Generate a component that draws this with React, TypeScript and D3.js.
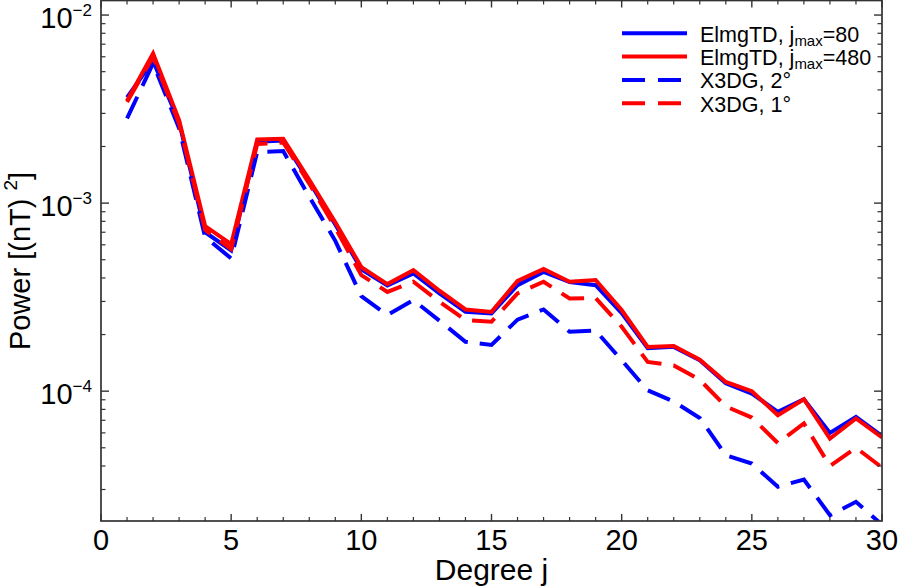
import React from "react";
import * as d3 from "d3";

const degrees = [1, 2, 3, 4, 5, 6, 7, 8, 9, 10, 11, 12, 13, 14, 15, 16, 17, 18, 19, 20, 21, 22, 23, 24, 25, 26, 27, 28, 29, 30];

const elmgTD80 = [3.65e-3, 5.7e-3, 2.7e-3, 7.0e-4, 5.6e-4, 2.12e-3, 2.15e-3, 1.3e-3, 7.7e-4, 4.45e-4,
  3.65e-4, 4.23e-4, 3.31e-4, 2.64e-4, 2.59e-4, 3.66e-4, 4.31e-4, 3.8e-4, 3.66e-4, 2.6e-4,
  1.69e-4, 1.72e-4, 1.46e-4, 1.1e-4, 9.7e-5, 7.76e-5, 9.06e-5, 6.0e-5, 7.3e-5, 5.77e-5];

const elmgTD480 = [3.5e-3, 6.25e-3, 2.76e-3, 7.55e-4, 6.05e-4, 2.18e-3, 2.2e-3, 1.33e-3, 7.9e-4, 4.57e-4,
  3.71e-4, 4.4e-4, 3.42e-4, 2.72e-4, 2.64e-4, 3.86e-4, 4.46e-4, 3.82e-4, 3.9e-4, 2.7e-4,
  1.72e-4, 1.74e-4, 1.47e-4, 1.12e-4, 1.0e-4, 7.45e-5, 9.06e-5, 5.6e-5, 7.16e-5, 5.67e-5];

const x3dg2 = [2.82e-3, 5.53e-3, 2.5e-3, 6.6e-4, 5.08e-4, 1.87e-3, 1.89e-3, 1.08e-3, 6.3e-4, 3.2e-4,
  2.54e-4, 3.05e-4, 2.37e-4, 1.83e-4, 1.76e-4, 2.4e-4, 2.72e-4, 2.07e-4, 2.1e-4, 1.46e-4,
  1.01e-4, 8.8e-5, 7.2e-5, 4.57e-5, 4.12e-5, 3.1e-5, 3.39e-5, 2.19e-5, 2.58e-5, 1.95e-5];

const x3dg1 = [3.45e-3, 6.0e-3, 2.65e-3, 7.2e-4, 5.7e-4, 2.06e-3, 2.1e-3, 1.27e-3, 7.4e-4, 4.14e-4,
  3.37e-4, 3.82e-4, 2.99e-4, 2.39e-4, 2.34e-4, 3.31e-4, 3.82e-4, 3.11e-4, 3.13e-4, 2.2e-4,
  1.43e-4, 1.37e-4, 1.15e-4, 8.3e-5, 7.24e-5, 5.3e-5, 6.73e-5, 4.0e-5, 5.0e-5, 3.93e-5];

const xMajorTicks = [0, 5, 10, 15, 20, 25, 30];
const yMajorTicks = [1e-2, 1e-3, 1e-4];
const yTickExponents = ["\u22122", "\u22123", "\u22124"];

const legendNames = ["ElmgTD, j", "ElmgTD, j", "X3DG, 2\u00b0", "X3DG, 1\u00b0"];
const legendSubs = ["max", "max", "", ""];
const legendTails = ["=80", "=480", "", ""];

export default function App() {
  const W = 898, H = 586;
  const left = 101, right = 882, top = 0.5, bottom = 521;
  const x = d3.scaleLinear().domain([0, 30]).range([left, right]);
  const y = d3.scaleLog().domain([2.04e-5, 1.195e-2]).range([bottom, top]);
  const lineGen = d3.line<number>().x((_, i) => x(degrees[i])).y((v) => y(v));

  const series = [
    { vals: elmgTD80, color: "#0000ff", dash: undefined as string | undefined },
    { vals: elmgTD480, color: "#ff0000", dash: undefined as string | undefined },
    { vals: x3dg2, color: "#0000ff", dash: "24 12" },
    { vals: x3dg1, color: "#ff0000", dash: "24 12" },
  ];

  const yMinor: number[] = [];
  for (let e = -5; e <= -3; e++) {
    for (let k = 2; k <= 9; k++) {
      const v = k * Math.pow(10, e);
      if (v >= 2.04e-5 && v <= 1.195e-2) yMinor.push(v);
    }
  }
  const xMinor = d3.range(0, 31).filter((d) => d % 5 !== 0);
  const axisColor = "#333333";
  const font = "'Liberation Sans', Arial, Helvetica, sans-serif";

  return (
    <svg width={W} height={H} style={{ position: "absolute", left: 0, top: 0, background: "#fff" }} fontFamily={font}>
      <defs>
        <clipPath id="plotclip">
          <rect x={left} y={top} width={right - left} height={bottom - top} />
        </clipPath>
      </defs>
      <g clipPath="url(#plotclip)">
        {series.map((s, i) => (
          <path key={i} d={lineGen(s.vals) || ""} fill="none" stroke={s.color} strokeWidth={4}
            strokeDasharray={s.dash} />
        ))}
      </g>
      {/* frame */}
      <rect x={left} y={top} width={right - left} height={bottom - top} fill="none" stroke={axisColor} strokeWidth={1.7} />
      {/* x ticks */}
      {xMajorTicks.map((t) => (
        <g key={"xm" + t}>
          <line x1={x(t)} x2={x(t)} y1={bottom} y2={bottom - 7} stroke={axisColor} strokeWidth={1.4} />
          <line x1={x(t)} x2={x(t)} y1={top} y2={top + 7} stroke={axisColor} strokeWidth={1.4} />
          <text x={x(t)} y={550} textAnchor="middle" fontSize={29} fill="#000">{t}</text>
        </g>
      ))}
      {xMinor.map((t) => (
        <g key={"xn" + t}>
          <line x1={x(t)} x2={x(t)} y1={bottom} y2={bottom - 4} stroke={axisColor} strokeWidth={1.2} />
          <line x1={x(t)} x2={x(t)} y1={top} y2={top + 4} stroke={axisColor} strokeWidth={1.2} />
        </g>
      ))}
      {/* y ticks */}
      {yMajorTicks.map((t, i) => (
        <g key={"ym" + i}>
          <line x1={left} x2={left + 8} y1={y(t)} y2={y(t)} stroke={axisColor} strokeWidth={1.4} />
          <line x1={right} x2={right - 8} y1={y(t)} y2={y(t)} stroke={axisColor} strokeWidth={1.4} />
          <text x={92} y={y(t) + 13} textAnchor="end" fill="#000">
            <tspan fontSize={29}>10</tspan>
            <tspan fontSize={17} dy={-12}>{yTickExponents[i]}</tspan>
          </text>
        </g>
      ))}
      {yMinor.map((t, i) => (
        <g key={"yn" + i}>
          <line x1={left} x2={left + 4.5} y1={y(t)} y2={y(t)} stroke={axisColor} strokeWidth={1.2} />
          <line x1={right} x2={right - 4.5} y1={y(t)} y2={y(t)} stroke={axisColor} strokeWidth={1.2} />
        </g>
      ))}
      {/* axis titles */}
      <text x={(left + right) / 2} y={580} textAnchor="middle" fontSize={30} fill="#000">Degree j</text>
      <text transform="translate(30,261) rotate(-90)" textAnchor="middle" fontSize={29} fill="#000">
        <tspan>Power [(nT) </tspan>
        <tspan fontSize={19} dy={-13}>2</tspan>
        <tspan dy={13}>]</tspan>
      </text>
      {/* legend */}
      {series.map((s, i) => {
        const ly = 33.3 + i * 23.3;
        return (
          <g key={"lg" + i}>
            <line x1={622} x2={687} y1={ly} y2={ly} stroke={s.color} strokeWidth={4} strokeDasharray={s.dash ? "23 13" : undefined} />
            <text x={700} y={ly + 8.4} fontSize={21.5} fill="#000">
              <tspan>{legendNames[i]}</tspan>
              {legendSubs[i] ? <tspan fontSize={15} dy={4}>{legendSubs[i]}</tspan> : null}
              {legendTails[i] ? <tspan dy={-4}>{legendTails[i]}</tspan> : null}
            </text>
          </g>
        );
      })}
    </svg>
  );
}
